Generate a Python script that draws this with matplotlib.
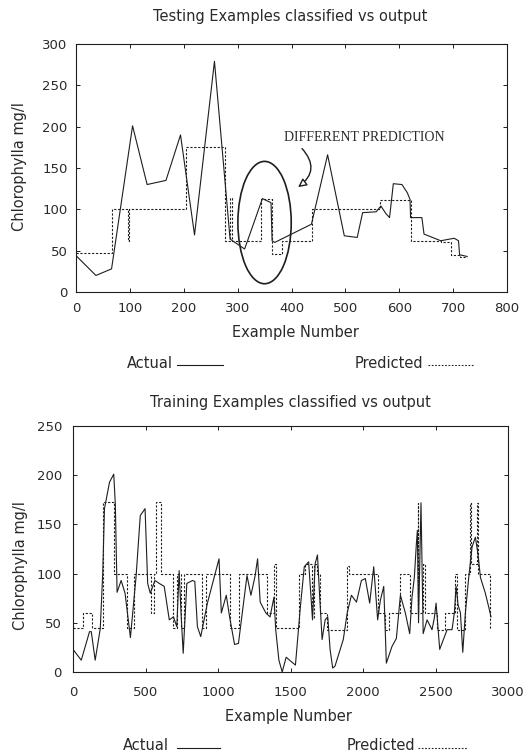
import numpy as np
import matplotlib
matplotlib.use("Agg")
import matplotlib.pyplot as plt
from matplotlib.patches import Ellipse, FancyArrowPatch
from matplotlib.lines import Line2D

# ---------- data ----------
# testing set: actual values (polyline)
test_actual_x = [0, 37, 66, 105, 132, 167, 194, 220, 257, 286, 313, 346, 362, 364,
                 369, 437, 467, 498, 522, 532, 557, 566, 575, 582, 589, 605, 615,
                 620, 621, 642, 646, 654, 677, 702, 710, 712, 726]
test_actual_y = [44, 20, 28, 201, 130, 135, 190, 69, 279, 64, 52, 113, 108, 62,
                 60, 82, 166, 68, 66, 96, 97, 104, 95, 90, 131, 130, 120,
                 112, 90, 90, 70, 68, 62, 65, 62, 45, 43]
# testing set: predicted class value (step levels starting at x)
test_pred_x = [0, 66, 97, 99, 204, 277, 285, 289, 344, 364, 383, 438, 565, 621,
               678, 696, 712, 726]
test_pred_y = [47, 101, 62, 101, 176, 62, 114, 62, 112, 46, 62, 101, 111, 62,
               60, 45, 42, 42]

# training set: actual values
train_actual_x = [0, 57, 114, 126, 153, 188, 205, 217, 252, 281, 292, 304, 332, 359,
                  396, 435, 464, 497, 515, 533, 565, 595, 629, 664, 693, 716, 732,
                  745, 760, 785, 824, 840, 858, 881, 927, 1007, 1023, 1057, 1080,
                  1114, 1141, 1170, 1200, 1227, 1255, 1273, 1291, 1330, 1359, 1375,
                  1386, 1398, 1420, 1443, 1470, 1534, 1568, 1595, 1625, 1652, 1670,
                  1686, 1700, 1718, 1739, 1757, 1773, 1791, 1807, 1864, 1891, 1920,
                  1955, 1989, 2016, 2046, 2074, 2101, 2120, 2143, 2161, 2200, 2230,
                  2258, 2292, 2322, 2338, 2354, 2368, 2375, 2383, 2400, 2415, 2442,
                  2476, 2492, 2504, 2529, 2580, 2614, 2630, 2642, 2656, 2672, 2688,
                  2706, 2729, 2752, 2775, 2793, 2810, 2844, 2867, 2883]
train_actual_y = [23, 12, 41, 41, 12, 44, 100, 166, 193, 201, 170, 81, 93, 80,
                  35, 97, 159, 166, 90, 80, 93, 90, 87, 53, 56, 46, 103,
                  60, 19, 90, 93, 92, 46, 36, 70, 115, 60, 78, 56,
                  28, 29, 63, 98, 78, 97, 115, 71, 60, 56, 68,
                  76, 43, 12, 0, 15, 7, 66, 107, 112, 53, 110,
                  119, 80, 33, 53, 56, 23, 4, 6, 33, 60, 78,
                  71, 93, 95, 70, 107, 53, 73, 87, 9, 26, 34,
                  78, 60, 39, 76, 96, 130, 144, 50, 172, 39, 53,
                  43, 55, 70, 23, 43, 43, 60, 87, 68, 60, 20,
                  60, 96, 127, 137, 120, 96, 80, 66, 56]
# training set: predicted class value (step levels starting at x)
train_pred_x = [0, 69, 130, 205, 286, 373, 423, 538, 561, 572, 606, 693, 720, 745,
                765, 892, 915, 1086, 1148, 1340, 1386, 1398, 1557, 1600, 1650, 1662,
                1680, 1700, 1750, 1891, 1900, 2101, 2154, 2177, 2258, 2327, 2376,
                2382, 2412, 2428, 2510, 2568, 2637, 2650, 2700, 2735, 2742, 2785,
                2792, 2874, 2885]
train_pred_y = [45, 60, 45, 173, 100, 45, 100, 60, 100, 173, 100, 45, 100, 45,
                100, 45, 100, 45, 100, 60, 110, 45, 100, 110, 55, 110,
                100, 60, 43, 108, 100, 60, 43, 60, 100, 60, 172,
                60, 110, 60, 43, 60, 100, 43, 100, 172, 110, 172,
                100, 45, 45]

INK = "#1e1e1e"
TXT = "#2a2a2a"
W, H = 531, 756

plt.rcParams["font.family"] = ["DejaVu Sans"]


def fx(px):
    return px / W


def fy(py):
    return 1 - py / H


def style_axes(ax, xmax, xstep, ymax, ystep, pad_x, pad_y):
    ax.set_xlim(0, xmax)
    ax.set_ylim(0, ymax)
    ax.set_xticks(np.arange(0, xmax + 1, xstep))
    ax.set_yticks(np.arange(0, ymax + 1, ystep))
    ax.tick_params(direction="in", length=3, width=0.7, colors=INK,
                   top=True, right=True, labelsize=9.5, labelcolor=TXT)
    ax.tick_params(axis="x", pad=pad_x)
    ax.tick_params(axis="y", pad=pad_y)
    for sp in ax.spines.values():
        sp.set_linewidth(0.8)
        sp.set_color(INK)


def legend_row(y, a_txt_x, a_line, p_txt_x, p_line):
    fig.text(fx(a_txt_x), fy(y), "Actual", fontsize=10.5, color=TXT,
             ha="left", va="center")
    fig.add_artist(Line2D([fx(a_line[0]), fx(a_line[1])], [fy(y + 2), fy(y + 2)],
                          color=INK, lw=0.8, transform=fig.transFigure))
    fig.text(fx(p_txt_x), fy(y), "Predicted", fontsize=10.5, color=TXT,
             ha="left", va="center")
    fig.add_artist(Line2D([fx(p_line[0]), fx(p_line[1])], [fy(y + 2), fy(y + 2)],
                          color=INK, lw=0.8, linestyle=(0, (1.5, 1.5)),
                          transform=fig.transFigure))


fig = plt.figure(figsize=(W / 100, H / 100), dpi=100)

# ---------- testing examples ----------
ax1 = fig.add_axes([fx(76), fy(292), fx(507 - 76), (292 - 44) / H])
ax1.plot(test_actual_x, test_actual_y, color=INK, lw=0.8)
ax1.plot(test_pred_x, test_pred_y, color=INK, lw=0.8, drawstyle="steps-post",
         linestyle=(0, (2, 1.5)))
style_axes(ax1, 800, 100, 300, 50, pad_x=7, pad_y=6)

ax1.add_patch(Ellipse((350, 84), 99, 148, fill=False, ec=INK, lw=1.2))
ax1.text(535, 187, "DIFFERENT PREDICTION", family="Liberation Serif",
         fontsize=10, color=TXT, ha="center", va="center")
ax1.add_patch(FancyArrowPatch((416, 176), (408, 125),
                              connectionstyle="arc3,rad=-0.6",
                              arrowstyle="-|>,head_length=5,head_width=2.5",
                              fc="white", ec=INK, lw=1.0))

fig.text(fx(290), fy(17), "Testing Examples classified vs output",
         fontsize=10.5, color=TXT, ha="center", va="center")
fig.text(fx(295), fy(333), "Example Number", fontsize=10.5, color=TXT,
         ha="center", va="center")
fig.text(fx(20), fy(167), "Chlorophylla mg/l", fontsize=10.5, color=TXT,
         ha="center", va="center", rotation=90)
legend_row(363, 127, (177, 223), 355, (428, 473))

# ---------- training examples ----------
ax2 = fig.add_axes([fx(73), fy(672), fx(508 - 73), (672 - 426) / H])
ax2.plot(train_actual_x, train_actual_y, color=INK, lw=0.8)
ax2.plot(train_pred_x, train_pred_y, color=INK, lw=0.8, drawstyle="steps-post",
         linestyle=(0, (2, 1.5)))
style_axes(ax2, 3000, 500, 250, 50, pad_x=10, pad_y=8)

fig.text(fx(290), fy(402), "Training Examples classified vs output",
         fontsize=10.5, color=TXT, ha="center", va="center")
fig.text(fx(288), fy(716), "Example Number", fontsize=10.5, color=TXT,
         ha="center", va="center")
fig.text(fx(21), fy(566), "Chlorophylla mg/l", fontsize=10.5, color=TXT,
         ha="center", va="center", rotation=90)
legend_row(746, 123, (177, 220), 347, (418, 467))

fig.savefig("out.png", dpi=100)
